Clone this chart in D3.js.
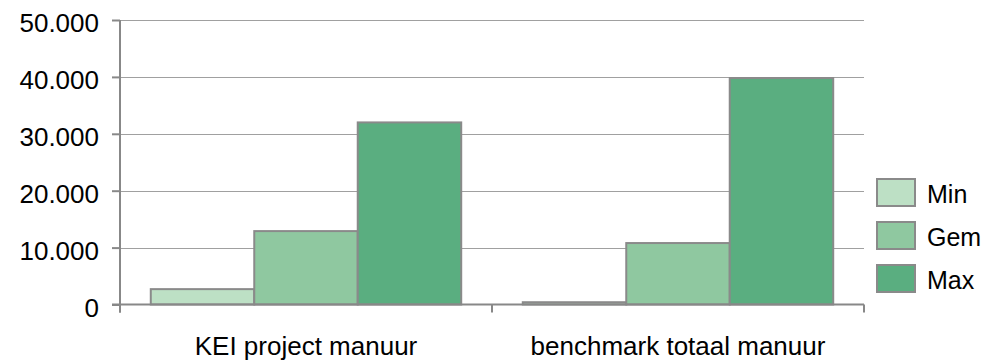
<!DOCTYPE html>
<html><head><meta charset="utf-8">
<script src="https://cdn.jsdelivr.net/npm/d3@7"></script>
<style>body{margin:0;background:#fff}svg{display:block}text{font-family:"Liberation Sans",Arial,sans-serif;fill:#000}</style>
</head><body><svg id="c" width="998" height="363"></svg>
<script>
const categories = ["KEI project manuur", "benchmark totaal manuur"];
const seriesNames = ["Min", "Gem", "Max"];
const minValues = [2700, 400];
const gemValues = [12900, 10800];
const maxValues = [32000, 39800];
const yTicks = [0, 10000, 20000, 30000, 40000, 50000];
const yTickLabels = ["0", "10.000", "20.000", "30.000", "40.000", "50.000"];
const colors = ["#bde0c5", "#8fc8a0", "#5aae80"];

const seriesValues = [minValues, gemValues, maxValues];
const svg = d3.select("#c");
const pL = 120, pR = 864, pT = 20, pB = 304.5;

const x0 = d3.scaleBand().domain(categories).range([pL, pR]).paddingInner(0).paddingOuter(0);
const x1 = d3.scaleBand().domain(seriesNames).range([0, x0.bandwidth()]).paddingOuter(0.2975).paddingInner(0);
const y = d3.scaleLinear().domain([0, 50000]).range([pB, pT]);

// gridlines
svg.append("g").selectAll("line").data(yTicks.slice(1)).join("line")
  .attr("x1", pL).attr("x2", pR)
  .attr("y1", d => Math.round(y(d)) + 0.5).attr("y2", d => Math.round(y(d)) + 0.5)
  .attr("stroke", "#a0a0a0").attr("stroke-width", 1.2);

// bars
const g = svg.append("g");
categories.forEach((c, ci) => {
  seriesNames.forEach((s, si) => {
    const v = seriesValues[si][ci];
    g.append("rect")
      .attr("x", x0(c) + x1(s)).attr("width", x1.bandwidth())
      .attr("y", y(v)).attr("height", y(0) - y(v))
      .attr("fill", colors[si]).attr("stroke", "#8a8a8a").attr("stroke-width", 2);
  });
});

// y axis
const yAxis = d3.axisLeft(y).tickValues(yTicks).tickFormat((d, i) => yTickLabels[i]).tickSize(8).tickPadding(13);
const ya = svg.append("g").attr("transform", `translate(${pL},0)`).call(yAxis);
ya.select(".domain").remove();
ya.selectAll("line").attr("stroke", "#888").attr("stroke-width", 2);
ya.selectAll("text").attr("font-size", 26).attr("font-family", '"Liberation Sans",Arial,sans-serif').attr("fill", "#000").attr("dy", "0.45em");
svg.append("line").attr("x1", pL).attr("x2", pL).attr("y1", pT).attr("y2", pB + 8)
  .attr("stroke", "#888").attr("stroke-width", 2);

// x axis
svg.append("line").attr("x1", pL - 8).attr("x2", pR).attr("y1", pB).attr("y2", pB)
  .attr("stroke", "#888").attr("stroke-width", 2);
const xt = [pL, ...categories.map(c => x0(c) + x0.bandwidth())];
svg.append("g").selectAll("line").data(xt).join("line")
  .attr("x1", d => d).attr("x2", d => d).attr("y1", pB).attr("y2", pB + 8)
  .attr("stroke", "#888").attr("stroke-width", 2);
svg.append("g").selectAll("text").data(categories).join("text")
  .attr("x", d => x0(d) + x0.bandwidth() / 2).attr("y", 355)
  .attr("text-anchor", "middle").attr("font-size", 26).text(d => d);

// legend
const lg = svg.append("g");
seriesNames.forEach((s, i) => {
  const yy = 179 + i * 43;
  lg.append("rect").attr("x", 877).attr("y", yy).attr("width", 38).attr("height", 27)
    .attr("fill", colors[i]).attr("stroke", "#8a8a8a").attr("stroke-width", 2);
  lg.append("text").attr("x", 927).attr("y", yy + 24).attr("font-size", 25).text(s);
});
</script></body></html>
